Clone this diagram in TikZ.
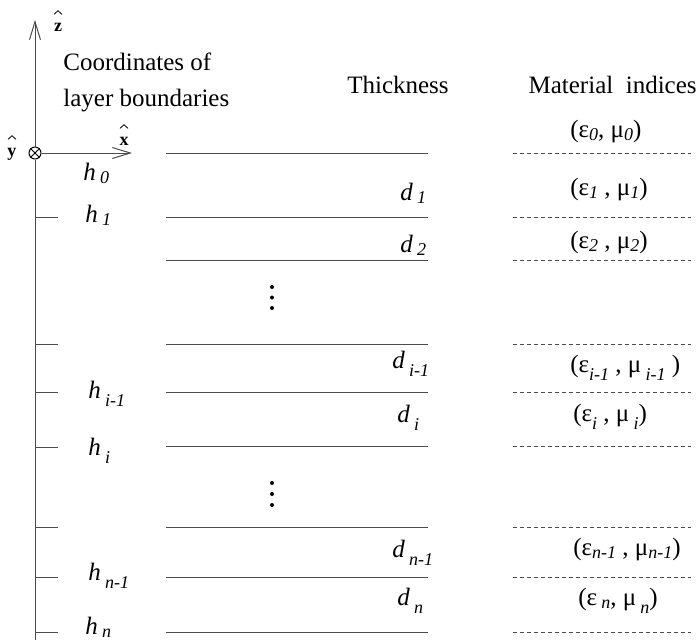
\documentclass[tikz,border=0pt]{standalone}
\usepackage{fontspec}
\setmainfont{Liberation Serif}
\usetikzlibrary{arrows.meta}
\newcommand{\sbs}[2][0.45ex]{\raisebox{-#1}{\fontsize{9}{9}\selectfont\itshape #2}}
\begin{document}
\begin{tikzpicture}[x=0.5pt,y=-0.5pt,>={Straight Barb[length=9pt,width=5.5pt]},
  font=\fontsize{12.5}{18}\selectfont,
  lab/.style={anchor=base west,inner sep=0pt},
  unitvec/.style={anchor=base,inner sep=0pt,font=\fontsize{9}{9}\selectfont\bfseries},
  hatmark/.style={line width=0.4pt},
  boundary/.style={line width=0.5pt,black!70},
  interface/.style={line width=0.45pt,black!70,dash pattern=on 2pt off 1.5pt},
  tick/.style={line width=0.5pt,black!70}]
\useasboundingbox (0,0) rectangle (698,644);
% axes
\node[circle,draw,line width=0.5pt,inner sep=0pt,minimum size=6pt] (ydir) at (35,153) {};
\draw[line width=0.5pt] (ydir.north west)--(ydir.south east) (ydir.north east)--(ydir.south west);
\coordinate (zbot) at (35,640);
\coordinate (ztip) at (35,20);
\coordinate (xtip) at (132,153);
\draw[tick] (zbot)--(ydir.south);
\draw[tick,->] (ydir.north)--(ztip);
\draw[tick,->] (ydir.east)--(xtip);
\node[unitvec] (zhat) at (58,31) {z};
\node[unitvec] (xhat) at (124,145) {x};
\node[unitvec] (yhat) at (12,156) {y};
\foreach \v in {zhat,xhat,yhat}
  \draw[hatmark] ([xshift=-2pt,yshift=4pt]\v.north) -- ++(2pt,1.8pt) -- ++(2pt,-1.8pt);
% headers
\node[anchor=north west,align=left,inner sep=0pt] (hhead) at (63,52) {Coordinates of\\layer boundaries};
\node[anchor=base,inner sep=0pt] (dhead) at (398,93) {Thickness};
\node[anchor=base east,inner sep=0pt] (mhead) at (697,93) {Material\ \ indices};
% layer boundaries
\foreach \y [count=\k] in {153,217,260,344,392,446,527,577,632} {
  \coordinate (sL\k) at (166,\y); \coordinate (sR\k) at (428,\y);
  \coordinate (mL\k) at (513,\y); \coordinate (mR\k) at (691,\y);
  \draw[boundary] (sL\k)--(sR\k);
  \draw[interface] (mL\k)--(mR\k);
}
\foreach \y [count=\k] in {217,344,392,447,527,577,632} {
  \coordinate (tA\k) at (35,\y); \coordinate (tB\k) at (58,\y);
  \draw[tick] (tA\k)--(tB\k);
}
% dots
\foreach \y in {287,297.5,308,483,494,505} \fill (272,\y) circle (1pt);
% coordinates
\node[lab] (h0) at (83,180) {\textit{h}\,\sbs[0.3ex]{0}};
\node[lab] (h1) at (85,222) {\textit{h}\,\sbs[0.3ex]{1}};
\node[lab] (him) at (88,398) {\textit{h}\,\sbs[0.7ex]{i-1}};
\node[lab] (hi) at (88,455) {\textit{h}\,\sbs[0.7ex]{i}};
\node[lab] (hnm) at (88,580) {\textit{h}\,\sbs[0.7ex]{n-1}};
\node[lab] (hn) at (85,634) {\textit{h}\,\sbs[0.3ex]{n}};
% thicknesses
\node[lab] (d1) at (400,200) {\textit{d}\,\sbs[0.3ex]{1}};
\node[lab] (d2) at (400,252) {\textit{d}\,\sbs[0.3ex]{2}};
\node[lab] (dim) at (392,368) {\textit{d}\,\sbs[0.7ex]{i-1}};
\node[lab] (di) at (397,422) {\textit{d}\,\sbs[0.7ex]{i}};
\node[lab] (dnm) at (392,557) {\textit{d}\,\sbs[0.7ex]{n-1}};
\node[lab] (dn) at (397,605) {\textit{d}\,\sbs[0.7ex]{n}};
% materials
\node[lab] (m0) at (570,137) {(ε\sbs[0.3ex]{0}, μ\sbs[0.3ex]{0})};
\node[lab] (m1) at (570,195) {(ε\sbs[0.3ex]{1} , μ\sbs[0.3ex]{1})};
\node[lab] (m2) at (570,248) {(ε\sbs[0.3ex]{2} , μ\sbs[0.3ex]{2})};
\node[lab] (mim) at (570,372) {(ε\sbs[0.7ex]{i-1} , μ\,\sbs[0.7ex]{i-1} )};
\node[lab] (mi) at (573,421) {(ε\sbs[0.7ex]{i} , μ\,\sbs[0.7ex]{i})};
\node[lab] (mnm) at (573,555) {(ε\sbs[0.3ex]{n-1} , μ\sbs[0.3ex]{n-1})};
\node[lab] (mn) at (578,605) {(ε\,\sbs[0.3ex]{n}, μ\,\sbs[0.7ex]{n})};
\end{tikzpicture}
\end{document}
